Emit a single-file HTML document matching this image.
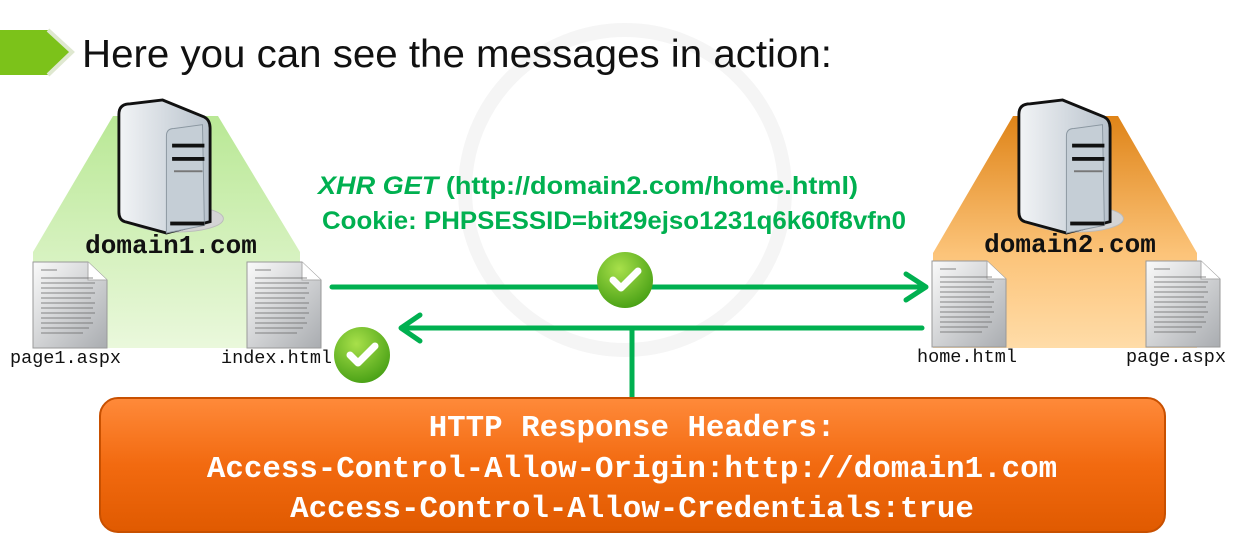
<!DOCTYPE html>
<html><head><style>
body{margin:0;width:1245px;height:537px;overflow:hidden;background:#fff;font-family:"Liberation Sans",sans-serif}
</style></head><body>
<svg width="1245" height="537" viewBox="0 0 1245 537" xmlns="http://www.w3.org/2000/svg">
<defs>
<linearGradient id="gl" x1="0" y1="0" x2="0" y2="1"><stop offset="0" stop-color="#b9e895"/><stop offset="1" stop-color="#eaf8dc"/></linearGradient>
<linearGradient id="go" x1="0" y1="0" x2="0" y2="1"><stop offset="0" stop-color="#df8418"/><stop offset="0.6" stop-color="#fcc47a"/><stop offset="1" stop-color="#ffdca8"/></linearGradient>
<linearGradient id="srv" x1="0" y1="0" x2="1" y2="0"><stop offset="0" stop-color="#f2f4f6"/><stop offset="1" stop-color="#b8c2cc"/></linearGradient>
<linearGradient id="docg" x1="0" y1="0" x2="1" y2="1"><stop offset="0" stop-color="#fafafa"/><stop offset="1" stop-color="#a9acb0"/></linearGradient>
<linearGradient id="box" x1="0" y1="0" x2="0" y2="1"><stop offset="0" stop-color="#ff8a3a"/><stop offset="0.5" stop-color="#f26a10"/><stop offset="1" stop-color="#e05a00"/></linearGradient>
<radialGradient id="chk" cx="0.4" cy="0.3" r="0.8"><stop offset="0" stop-color="#a8e04a"/><stop offset="1" stop-color="#3f9a10"/></radialGradient>
<g id="server">
<ellipse cx="62" cy="125" rx="50" ry="14" fill="#d4d4d4" stroke="#bbb"/>
<path d="M2 15 Q2 4 14 4 L48 0 L92 18 Q98 21 98 30 L98 128 L52 140 L8 128 Q2 126 2 118 Z" fill="url(#srv)" stroke="#111" stroke-width="3"/>
<path d="M52 38 Q52 30 60 30 L90 26 L92 132 L52 140 Z" fill="#c5ced6" stroke="#8a96a0"/>
<rect x="58" y="46" width="34" height="4" fill="#111"/><rect x="58" y="60" width="34" height="4" fill="#111"/><rect x="60" y="74" width="30" height="2" fill="#777"/>
<rect x="56" y="128" width="36" height="4" fill="#111"/>
</g>
<g id="doc">
<path d="M0 0 L55 0 L74 18 L74 86 L0 86 Z" fill="url(#docg)" stroke="#999"/>
<path d="M55 0 L55 18 L74 18" fill="#fff" stroke="#aaa"/>
<g stroke="#666" stroke-width="0.8">
<line x1="8" y1="8" x2="24" y2="8"/><line x1="8" y1="16" x2="60" y2="16"/><line x1="8" y1="21" x2="62" y2="21"/><line x1="8" y1="26" x2="60" y2="26"/><line x1="8" y1="31" x2="62" y2="31"/><line x1="8" y1="36" x2="58" y2="36"/><line x1="8" y1="41" x2="62" y2="41"/><line x1="8" y1="46" x2="60" y2="46"/><line x1="8" y1="51" x2="62" y2="51"/><line x1="8" y1="56" x2="58" y2="56"/><line x1="8" y1="61" x2="60" y2="61"/><line x1="8" y1="66" x2="56" y2="66"/><line x1="8" y1="71" x2="50" y2="71"/></g>
</g>
<g id="check">
<circle r="28" fill="url(#chk)"/>
<path d="M-12 0 L-4 8 L13 -9" fill="none" stroke="#fff" stroke-width="7" stroke-linecap="round" stroke-linejoin="round"/>
</g>
</defs>
<circle cx="625" cy="190" r="160" fill="none" stroke="#f5f5f5" stroke-width="14"/>
<path d="M0 30 L48 30 L72 52 L48 75 L0 75 Z" fill="#7cc21a"/>
<path d="M48 30 L72 52 L48 75" fill="none" stroke="#dfe8d0" stroke-width="4"/>
<text x="82" y="67" font-size="39" fill="#111" textLength="750" lengthAdjust="spacingAndGlyphs">Here you can see the messages in action:</text>
<path d="M113 116 L218 116 L300 252 L300 348 L33 348 L33 252 Z" fill="url(#gl)"/>
<path d="M1013 116 L1118 116 L1197 253 L1197 348 L933 348 L933 253 Z" fill="url(#go)"/>
<use href="#server" transform="translate(117,100) scale(0.95)"/>
<use href="#server" transform="translate(1017,100) scale(0.95)"/>
<text x="171" y="253" font-family="Liberation Mono,monospace" font-weight="bold" font-size="26" text-anchor="middle" fill="#111">domain1.com</text>
<text x="1070" y="252" font-family="Liberation Mono,monospace" font-weight="bold" font-size="26" text-anchor="middle" fill="#111">domain2.com</text>
<use href="#doc" x="33" y="262"/><use href="#doc" x="247" y="262"/>
<use href="#doc" x="932" y="261"/><use href="#doc" x="1146" y="261"/>
<g font-family="Liberation Mono,monospace" font-size="18.5" fill="#111">
<text x="10" y="363">page1.aspx</text><text x="221" y="363">index.html</text>
<text x="917" y="362">home.html</text><text x="1126" y="362">page.aspx</text></g>
<text x="318" y="194" font-size="25" font-weight="bold" fill="#00b050" textLength="540" lengthAdjust="spacingAndGlyphs"><tspan font-style="italic">XHR GET</tspan> (http://domain2.com/home.html)</text>
<text x="322" y="229" font-size="25" font-weight="bold" fill="#00b050" textLength="584" lengthAdjust="spacingAndGlyphs">Cookie: PHPSESSID=bit29ejso1231q6k60f8vfn0</text>
<g stroke="#00b050" stroke-width="5" fill="none" stroke-linecap="round" stroke-linejoin="round">
<line x1="332" y1="287" x2="924" y2="287"/><path d="M906 274 L926 287 L906 300"/>
<line x1="922" y1="328" x2="404" y2="328"/><path d="M420 315 L401 328 L420 341"/>
<line x1="632" y1="328" x2="632" y2="400" stroke-linecap="butt"/></g>
<use href="#check" x="625" y="280"/>
<use href="#check" x="362" y="355"/>
<rect x="100" y="398" width="1065" height="134" rx="18" fill="url(#box)" stroke="#c85000" stroke-width="2"/>
<g font-family="Liberation Mono,monospace" font-weight="bold" font-size="30.8" fill="#fff" text-anchor="middle">
<text x="632" y="436">HTTP Response Headers:</text>
<text x="632" y="477">Access-Control-Allow-Origin:http://domain1.com</text>
<text x="632" y="517">Access-Control-Allow-Credentials:true</text></g>
</svg>
</body></html>
